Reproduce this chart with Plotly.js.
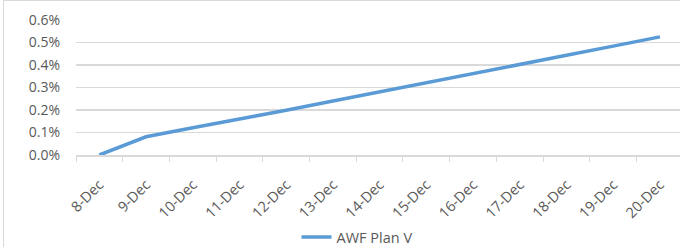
<!DOCTYPE html>
<html><head><meta charset="utf-8">
<script src="https://cdn.plot.ly/plotly-3.0.1.min.js"></script>
<style>
body{margin:0;padding:0;background:#fff;}
#wrap{position:relative;width:680px;height:247px;overflow:hidden;}
#chart{position:absolute;left:0;top:0;width:680px;height:247px;}
#frame{position:absolute;left:3px;top:0px;width:720px;height:300px;border-left:1px solid #d9d9d9;border-top:1px solid #d9d9d9;pointer-events:none;}
</style></head>
<body><div id="wrap"><div id="chart"></div><div id="frame"></div></div>
<script>
const categories = ["8-Dec","9-Dec","10-Dec","11-Dec","12-Dec","13-Dec","14-Dec","15-Dec","16-Dec","17-Dec","18-Dec","19-Dec","20-Dec"];
const awfPlanV = [0.0, 0.081, 0.121, 0.159, 0.199, 0.240, 0.280, 0.320, 0.361, 0.402, 0.443, 0.484, 0.525];
const seriesName = "AWF Plan V";
const yTickVals = [0, 0.1, 0.2, 0.3, 0.4, 0.5, 0.6];
const yTickText = ["0.0%","0.1%","0.2%","0.3%","0.4%","0.5%","0.6%"];

const fam = "Open Sans, Liberation Sans, sans-serif";
const yfont = {family: fam, size: 14, color: "#595959"};
const xfont = {family: fam, size: 14.5, color: "#595959"};
const lfont = {family: fam, size: 14.5, color: "#595959"};
Plotly.newPlot("chart", [{
  x: categories, y: awfPlanV, type: "scatter", mode: "lines", name: seriesName,
  line: {color: "#5B9BD5", width: 3.5}, showlegend: true
}], {
  width: 680, height: 247,
  margin: {l: 76, r: 0, t: 20, b: 92, pad: 0, autoexpand: false},
  paper_bgcolor: "#fff", plot_bgcolor: "#fff",
  font: yfont,
  xaxis: {
    type: "category", range: [-0.5, 12.43], tickangle: -45, automargin: false,
    showgrid: false, showline: true, linecolor: "#d9d9d9", linewidth: 1.5,
    ticks: "outside", tickson: "boundaries", ticklen: 5, tickcolor: "#d9d9d9",
    ticklabelstandoff: 14,
    tickfont: xfont, zeroline: false, fixedrange: true
  },
  yaxis: {
    range: [0, 0.6], tickvals: yTickVals, ticktext: yTickText, automargin: false,
    showgrid: true, gridcolor: "#d9d9d9", gridwidth: 1.5, showline: false, zeroline: false,
    ticks: "", ticklabelstandoff: 15, tickfont: yfont, fixedrange: true
  },
  showlegend: true,
  legend: {orientation: "h", xref: "container", yref: "container", x: 0.525, xanchor: "center", y: 0.04, yanchor: "middle",
    font: lfont, bgcolor: "rgba(0,0,0,0)"}
}, {staticPlot: true, displayModeBar: false});
</script></body></html>
